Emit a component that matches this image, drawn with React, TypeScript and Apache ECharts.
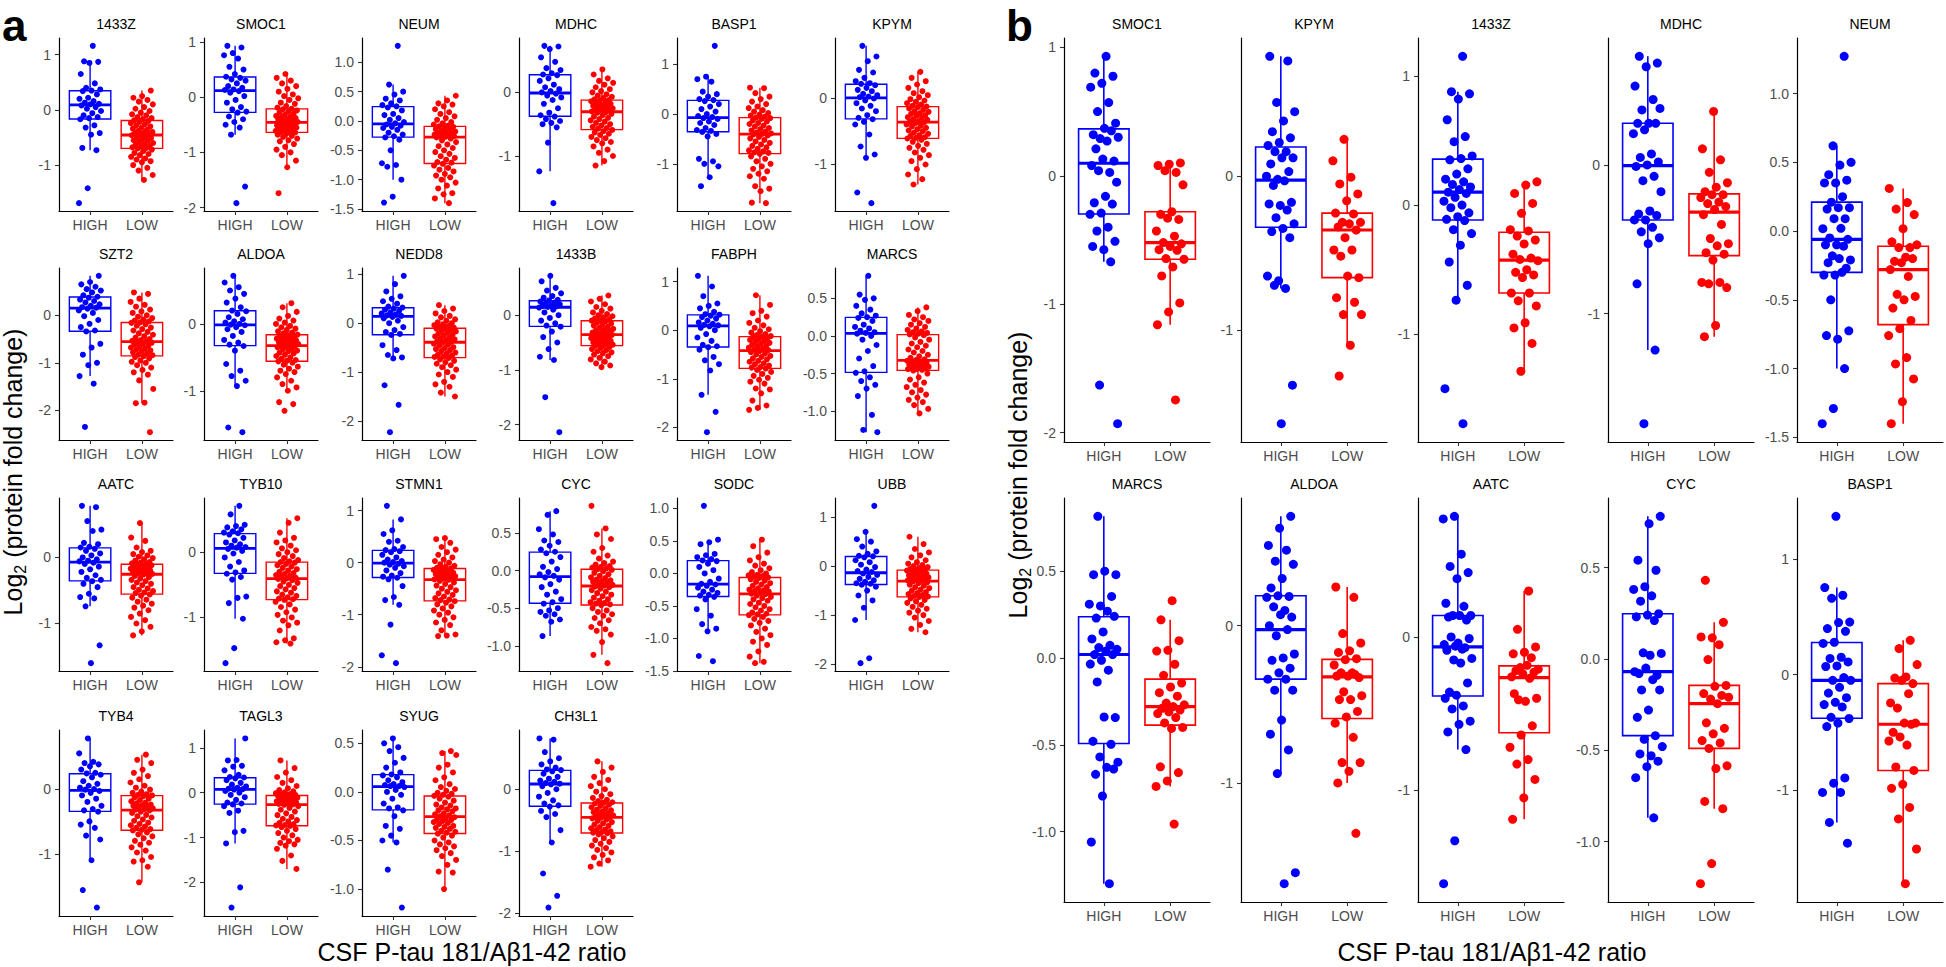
import React, { useEffect, useRef } from "react";
import * as echarts from "echarts";

const GROUPS = ["HIGH", "LOW"];
const COLORS = ["#0000FF", "#FF0000"];
const Y_TITLE = "Log2 (protein fold change)";
const X_TITLE = "CSF P-tau 181/A\u03b21-42 ratio";

// ---------- Panel a ----------
const TITLES_A = ["1433Z", "SMOC1", "NEUM", "MDHC", "BASP1", "KPYM", "SZT2", "ALDOA", "NEDD8", "1433B", "FABPH", "MARCS", "AATC", "TYB10", "STMN1", "CYC", "SODC", "UBB", "TYB4", "TAGL3", "SYUG", "CH3L1"];
const TICKS_A = [
  [-1, 0, 1], [-2, -1, 0, 1], [-1.5, -1, -0.5, 0, 0.5, 1], [-1, 0], [-1, 0, 1], [-1, 0],
  [-2, -1, 0], [-1, 0], [-2, -1, 0, 1], [-2, -1, 0], [-2, -1, 0, 1], [-1, -0.5, 0, 0.5],
  [-1, 0], [-1, 0], [-2, -1, 0, 1], [-1, -0.5, 0, 0.5], [-1.5, -1, -0.5, 0, 0.5, 1], [-2, -1, 0, 1],
  [-1, 0], [-2, -1, 0, 1], [-1, -0.5, 0, 0.5], [-2, -1, 0],
];

const A_1433Z_HIGH = [1.16, 0.88, 0.87, 0.85, 0.65, 0.48, 0.40, 0.37, 0.35, 0.34, 0.28, 0.22, 0.20, 0.16, 0.13, 0.11, 0.10, 0.08, 0.05, 0.02, -0.02, -0.06, -0.10, -0.13, -0.15, -0.17, -0.28, -0.32, -0.42, -0.45, -0.69, -0.73, -1.42, -1.69];
const A_1433Z_LOW = [0.35, 0.25, 0.22, 0.18, 0.15, 0.10, 0.05, 0.02, -0.02, -0.05, -0.08, -0.10, -0.13, -0.15, -0.17, -0.19, -0.20, -0.22, -0.24, -0.26, -0.28, -0.30, -0.32, -0.34, -0.36, -0.38, -0.40, -0.41, -0.42, -0.44, -0.45, -0.46, -0.48, -0.50, -0.51, -0.53, -0.55, -0.56, -0.58, -0.60, -0.62, -0.63, -0.65, -0.66, -0.68, -0.69, -0.70, -0.72, -0.75, -0.78, -0.80, -0.82, -0.85, -0.88, -0.90, -0.93, -0.95, -1.00, -1.05, -1.10, -1.18, -1.27];
const A_SMOC1_HIGH = [0.93, 0.90, 0.80, 0.76, 0.70, 0.55, 0.50, 0.42, 0.37, 0.35, 0.32, 0.30, 0.25, 0.20, 0.17, 0.14, 0.13, 0.11, 0.08, 0.02, -0.05, -0.10, -0.18, -0.22, -0.26, -0.28, -0.35, -0.40, -0.45, -0.50, -0.55, -0.68, -1.62, -1.92];
const A_SMOC1_LOW = [0.42, 0.35, 0.30, 0.25, 0.20, 0.15, 0.10, 0.05, 0.02, -0.02, -0.05, -0.10, -0.12, -0.16, -0.19, -0.21, -0.22, -0.24, -0.26, -0.28, -0.30, -0.32, -0.34, -0.35, -0.37, -0.38, -0.40, -0.41, -0.43, -0.44, -0.45, -0.46, -0.47, -0.49, -0.50, -0.51, -0.53, -0.54, -0.55, -0.57, -0.58, -0.59, -0.60, -0.61, -0.62, -0.63, -0.64, -0.66, -0.68, -0.70, -0.72, -0.75, -0.78, -0.80, -0.85, -0.90, -0.95, -1.00, -1.05, -1.15, -1.27, -1.74];
const A_NEUM_HIGH = [1.28, 0.62, 0.50, 0.45, 0.38, 0.35, 0.30, 0.27, 0.25, 0.23, 0.18, 0.12, 0.10, 0.05, 0.02, -0.02, -0.04, -0.06, -0.08, -0.10, -0.12, -0.15, -0.20, -0.23, -0.26, -0.28, -0.32, -0.50, -0.72, -0.75, -0.78, -1.00, -1.29, -1.39];
const A_NEUM_LOW = [0.43, 0.35, 0.30, 0.28, 0.25, 0.20, 0.15, 0.12, 0.08, 0.05, 0.02, -0.02, -0.04, -0.06, -0.08, -0.09, -0.10, -0.12, -0.14, -0.15, -0.17, -0.18, -0.19, -0.20, -0.21, -0.22, -0.23, -0.24, -0.25, -0.26, -0.27, -0.28, -0.30, -0.33, -0.36, -0.40, -0.43, -0.46, -0.50, -0.53, -0.56, -0.60, -0.63, -0.66, -0.70, -0.71, -0.73, -0.76, -0.80, -0.83, -0.86, -0.90, -0.93, -0.96, -1.00, -1.05, -1.10, -1.15, -1.23, -1.25, -1.32, -1.40];
const A_MDHC_HIGH = [0.73, 0.72, 0.68, 0.55, 0.48, 0.38, 0.35, 0.30, 0.28, 0.27, 0.22, 0.18, 0.12, 0.08, 0.05, 0.02, 0.00, -0.02, -0.05, -0.08, -0.12, -0.18, -0.25, -0.32, -0.36, -0.38, -0.42, -0.45, -0.48, -0.50, -0.55, -0.79, -1.24, -1.74];
const A_MDHC_LOW = [0.36, 0.28, 0.22, 0.18, 0.15, 0.12, 0.08, 0.05, 0.02, 0.00, -0.03, -0.05, -0.07, -0.09, -0.11, -0.12, -0.13, -0.14, -0.16, -0.17, -0.18, -0.20, -0.21, -0.22, -0.23, -0.25, -0.26, -0.27, -0.28, -0.29, -0.30, -0.31, -0.32, -0.34, -0.36, -0.38, -0.40, -0.42, -0.44, -0.46, -0.48, -0.50, -0.52, -0.54, -0.56, -0.57, -0.59, -0.61, -0.63, -0.65, -0.67, -0.70, -0.72, -0.75, -0.78, -0.80, -0.85, -0.90, -0.95, -1.00, -1.08, -1.15];
const A_BASP1_HIGH = [1.37, 0.75, 0.70, 0.65, 0.45, 0.40, 0.35, 0.30, 0.28, 0.26, 0.20, 0.15, 0.10, 0.05, 0.00, -0.04, -0.06, -0.08, -0.10, -0.15, -0.18, -0.22, -0.28, -0.32, -0.34, -0.36, -0.40, -0.45, -0.90, -0.95, -1.00, -1.05, -1.27, -1.45];
const A_BASP1_LOW = [0.53, 0.52, 0.42, 0.35, 0.30, 0.25, 0.20, 0.15, 0.12, 0.08, 0.05, 0.02, -0.01, -0.03, -0.05, -0.07, -0.08, -0.10, -0.13, -0.15, -0.18, -0.20, -0.23, -0.25, -0.28, -0.30, -0.33, -0.35, -0.37, -0.39, -0.40, -0.41, -0.43, -0.46, -0.49, -0.52, -0.55, -0.58, -0.61, -0.64, -0.67, -0.70, -0.73, -0.75, -0.77, -0.78, -0.80, -0.85, -0.90, -0.95, -1.00, -1.05, -1.10, -1.15, -1.20, -1.25, -1.30, -1.45, -1.50, -1.55, -1.78, -1.79];
const A_KPYM_HIGH = [0.78, 0.62, 0.55, 0.42, 0.38, 0.30, 0.25, 0.22, 0.21, 0.19, 0.15, 0.12, 0.10, 0.06, 0.04, 0.02, 0.01, -0.01, -0.04, -0.08, -0.12, -0.16, -0.20, -0.26, -0.30, -0.32, -0.36, -0.40, -0.55, -0.73, -0.85, -0.90, -1.42, -1.58];
const A_KPYM_LOW = [0.39, 0.30, 0.25, 0.20, 0.15, 0.10, 0.07, 0.04, 0.01, -0.02, -0.04, -0.06, -0.08, -0.10, -0.12, -0.13, -0.14, -0.16, -0.18, -0.20, -0.21, -0.23, -0.24, -0.26, -0.27, -0.29, -0.30, -0.32, -0.33, -0.35, -0.36, -0.37, -0.38, -0.40, -0.42, -0.43, -0.45, -0.47, -0.49, -0.50, -0.52, -0.54, -0.56, -0.57, -0.59, -0.60, -0.61, -0.63, -0.66, -0.69, -0.72, -0.75, -0.78, -0.82, -0.86, -0.90, -0.95, -1.00, -1.07, -1.15, -1.22, -1.30];
const A_SZT2_HIGH = [0.83, 0.70, 0.65, 0.60, 0.55, 0.52, 0.48, 0.42, 0.39, 0.37, 0.33, 0.30, 0.27, 0.23, 0.20, 0.17, 0.16, 0.14, 0.10, 0.05, -0.02, -0.10, -0.18, -0.25, -0.32, -0.34, -0.60, -0.68, -0.83, -1.00, -1.05, -1.28, -1.44, -2.35];
const A_SZT2_LOW = [0.48, 0.45, 0.35, 0.28, 0.22, 0.18, 0.12, 0.08, 0.05, 0.00, -0.03, -0.06, -0.09, -0.11, -0.13, -0.15, -0.16, -0.19, -0.22, -0.26, -0.29, -0.32, -0.35, -0.38, -0.41, -0.44, -0.47, -0.50, -0.52, -0.54, -0.55, -0.56, -0.58, -0.60, -0.62, -0.64, -0.66, -0.68, -0.70, -0.72, -0.74, -0.76, -0.78, -0.80, -0.83, -0.84, -0.86, -0.88, -0.91, -0.95, -0.98, -1.00, -1.05, -1.10, -1.15, -1.20, -1.25, -1.37, -1.55, -1.84, -1.85, -2.46];
const A_ALDOA_HIGH = [0.72, 0.62, 0.55, 0.50, 0.45, 0.38, 0.32, 0.25, 0.20, 0.19, 0.15, 0.10, 0.07, 0.04, 0.02, 0.00, -0.01, -0.02, -0.05, -0.08, -0.12, -0.18, -0.24, -0.28, -0.31, -0.33, -0.40, -0.60, -0.70, -0.78, -0.85, -0.93, -1.55, -1.62];
const A_ALDOA_LOW = [0.31, 0.25, 0.18, 0.12, 0.08, 0.05, 0.02, 0.00, -0.03, -0.05, -0.07, -0.09, -0.11, -0.13, -0.14, -0.16, -0.17, -0.18, -0.19, -0.21, -0.22, -0.23, -0.24, -0.25, -0.26, -0.27, -0.28, -0.29, -0.30, -0.31, -0.32, -0.33, -0.34, -0.35, -0.37, -0.38, -0.40, -0.41, -0.43, -0.44, -0.46, -0.48, -0.50, -0.52, -0.54, -0.55, -0.56, -0.58, -0.61, -0.64, -0.67, -0.70, -0.72, -0.75, -0.80, -0.85, -0.90, -0.95, -1.00, -1.17, -1.20, -1.30];
const A_NEDD8_HIGH = [0.97, 0.80, 0.65, 0.55, 0.50, 0.45, 0.40, 0.34, 0.32, 0.30, 0.28, 0.25, 0.22, 0.20, 0.18, 0.16, 0.15, 0.13, 0.10, 0.05, 0.00, -0.08, -0.14, -0.18, -0.22, -0.24, -0.45, -0.55, -0.65, -0.70, -0.72, -1.27, -1.67, -2.23];
const A_NEDD8_LOW = [0.37, 0.30, 0.25, 0.20, 0.15, 0.12, 0.08, 0.05, 0.02, 0.00, -0.02, -0.04, -0.06, -0.08, -0.09, -0.10, -0.11, -0.13, -0.15, -0.17, -0.19, -0.21, -0.23, -0.25, -0.27, -0.29, -0.31, -0.33, -0.35, -0.37, -0.38, -0.40, -0.42, -0.44, -0.46, -0.49, -0.51, -0.53, -0.55, -0.57, -0.60, -0.62, -0.64, -0.66, -0.68, -0.69, -0.71, -0.74, -0.77, -0.80, -0.83, -0.86, -0.90, -0.95, -1.00, -1.05, -1.10, -1.20, -1.25, -1.30, -1.42, -1.50];
const A_1433B_HIGH = [0.72, 0.62, 0.50, 0.45, 0.40, 0.35, 0.32, 0.28, 0.27, 0.25, 0.23, 0.21, 0.20, 0.18, 0.17, 0.16, 0.15, 0.14, 0.10, 0.05, 0.00, -0.05, -0.10, -0.15, -0.19, -0.21, -0.30, -0.40, -0.50, -0.62, -0.76, -0.82, -1.50, -2.14];
const A_1433B_LOW = [0.36, 0.30, 0.25, 0.20, 0.15, 0.12, 0.08, 0.05, 0.02, 0.00, -0.02, -0.04, -0.06, -0.08, -0.09, -0.10, -0.11, -0.13, -0.15, -0.17, -0.19, -0.21, -0.23, -0.25, -0.26, -0.28, -0.29, -0.31, -0.32, -0.34, -0.35, -0.36, -0.37, -0.38, -0.40, -0.41, -0.42, -0.44, -0.45, -0.47, -0.48, -0.50, -0.51, -0.52, -0.54, -0.55, -0.56, -0.58, -0.60, -0.62, -0.64, -0.66, -0.68, -0.70, -0.72, -0.75, -0.78, -0.81, -0.85, -0.88, -0.92, -0.95];
const A_FABPH_HIGH = [1.12, 0.90, 0.70, 0.55, 0.50, 0.45, 0.38, 0.33, 0.32, 0.30, 0.27, 0.24, 0.20, 0.16, 0.13, 0.11, 0.10, 0.08, 0.05, 0.00, -0.08, -0.15, -0.22, -0.30, -0.33, -0.35, -0.40, -0.55, -0.62, -0.70, -0.83, -1.33, -1.68, -2.10];
const A_FABPH_LOW = [0.72, 0.52, 0.40, 0.35, 0.28, 0.20, 0.15, 0.10, 0.05, 0.02, -0.02, -0.05, -0.08, -0.10, -0.12, -0.13, -0.14, -0.16, -0.18, -0.20, -0.22, -0.24, -0.26, -0.28, -0.30, -0.32, -0.34, -0.36, -0.38, -0.40, -0.41, -0.43, -0.45, -0.48, -0.50, -0.53, -0.55, -0.58, -0.60, -0.63, -0.65, -0.68, -0.70, -0.73, -0.76, -0.77, -0.79, -0.82, -0.86, -0.90, -0.94, -0.98, -1.02, -1.06, -1.10, -1.20, -1.22, -1.30, -1.45, -1.55, -1.60, -1.64];
const A_MARCS_HIGH = [0.80, 0.55, 0.50, 0.48, 0.40, 0.35, 0.30, 0.27, 0.25, 0.24, 0.20, 0.15, 0.12, 0.10, 0.07, 0.05, 0.04, 0.03, 0.00, -0.05, -0.12, -0.20, -0.30, -0.40, -0.47, -0.49, -0.55, -0.60, -0.65, -0.70, -0.80, -1.05, -1.25, -1.28];
const A_MARCS_LOW = [0.38, 0.33, 0.28, 0.25, 0.22, 0.20, 0.17, 0.15, 0.12, 0.10, 0.08, 0.06, 0.05, 0.04, 0.03, 0.02, 0.01, -0.02, -0.05, -0.08, -0.10, -0.13, -0.15, -0.18, -0.20, -0.22, -0.25, -0.27, -0.29, -0.31, -0.32, -0.33, -0.34, -0.35, -0.36, -0.37, -0.38, -0.39, -0.40, -0.41, -0.42, -0.43, -0.43, -0.44, -0.44, -0.45, -0.46, -0.50, -0.55, -0.58, -0.62, -0.65, -0.68, -0.72, -0.75, -0.78, -0.82, -0.85, -0.88, -0.92, -0.97, -1.03];
const A_AATC_HIGH = [0.78, 0.76, 0.55, 0.42, 0.40, 0.22, 0.20, 0.16, 0.15, 0.13, 0.10, 0.06, 0.03, 0.00, -0.03, -0.05, -0.06, -0.08, -0.10, -0.14, -0.18, -0.22, -0.27, -0.31, -0.34, -0.36, -0.40, -0.45, -0.55, -0.60, -0.62, -0.74, -1.33, -1.60];
const A_AATC_LOW = [0.52, 0.30, 0.25, 0.15, 0.10, 0.08, 0.05, 0.03, 0.01, -0.01, -0.03, -0.05, -0.07, -0.08, -0.09, -0.10, -0.11, -0.12, -0.13, -0.14, -0.15, -0.16, -0.17, -0.18, -0.19, -0.20, -0.21, -0.22, -0.23, -0.24, -0.25, -0.26, -0.28, -0.30, -0.32, -0.34, -0.36, -0.38, -0.40, -0.42, -0.45, -0.47, -0.49, -0.51, -0.53, -0.54, -0.56, -0.58, -0.61, -0.64, -0.67, -0.70, -0.73, -0.76, -0.80, -0.85, -0.90, -0.95, -1.00, -1.05, -1.12, -1.18];
const A_TYB10_HIGH = [0.71, 0.58, 0.42, 0.40, 0.38, 0.35, 0.32, 0.30, 0.29, 0.27, 0.22, 0.18, 0.15, 0.12, 0.10, 0.08, 0.07, 0.05, 0.02, -0.02, -0.08, -0.15, -0.22, -0.28, -0.31, -0.33, -0.38, -0.42, -0.68, -0.70, -0.78, -1.02, -1.47, -1.70];
const A_TYB10_LOW = [0.52, 0.45, 0.30, 0.22, 0.18, 0.15, 0.10, 0.06, 0.03, 0.00, -0.03, -0.06, -0.09, -0.12, -0.14, -0.15, -0.16, -0.18, -0.20, -0.22, -0.24, -0.26, -0.28, -0.30, -0.32, -0.33, -0.35, -0.36, -0.37, -0.39, -0.40, -0.41, -0.43, -0.45, -0.47, -0.50, -0.52, -0.55, -0.57, -0.60, -0.62, -0.65, -0.67, -0.69, -0.71, -0.72, -0.73, -0.76, -0.80, -0.84, -0.88, -0.92, -0.96, -1.00, -1.05, -1.08, -1.12, -1.20, -1.32, -1.35, -1.38, -1.40];
const A_STMN1_HIGH = [1.09, 0.83, 0.62, 0.55, 0.42, 0.40, 0.30, 0.26, 0.24, 0.22, 0.20, 0.15, 0.10, 0.06, 0.03, 0.01, 0.00, -0.02, -0.04, -0.07, -0.10, -0.15, -0.20, -0.25, -0.27, -0.29, -0.32, -0.45, -0.66, -0.72, -0.81, -1.19, -1.78, -1.93];
const A_STMN1_LOW = [0.47, 0.45, 0.38, 0.30, 0.25, 0.20, 0.15, 0.10, 0.06, 0.03, 0.00, -0.03, -0.06, -0.08, -0.10, -0.11, -0.12, -0.14, -0.16, -0.18, -0.19, -0.21, -0.22, -0.24, -0.25, -0.26, -0.27, -0.29, -0.30, -0.31, -0.32, -0.33, -0.35, -0.38, -0.41, -0.44, -0.47, -0.50, -0.53, -0.56, -0.59, -0.62, -0.65, -0.68, -0.71, -0.72, -0.74, -0.77, -0.80, -0.84, -0.88, -0.92, -0.96, -1.00, -1.05, -1.10, -1.15, -1.20, -1.30, -1.38, -1.40, -1.41];
const A_CYC_HIGH = [0.79, 0.74, 0.55, 0.48, 0.40, 0.38, 0.33, 0.28, 0.25, 0.23, 0.18, 0.12, 0.05, 0.02, -0.02, -0.05, -0.07, -0.09, -0.12, -0.18, -0.22, -0.28, -0.32, -0.38, -0.42, -0.44, -0.50, -0.53, -0.55, -0.58, -0.60, -0.65, -0.68, -0.87];
const A_CYC_LOW = [0.86, 0.56, 0.48, 0.42, 0.30, 0.25, 0.20, 0.16, 0.12, 0.10, 0.08, 0.06, 0.05, 0.04, 0.03, 0.02, 0.01, -0.01, -0.03, -0.05, -0.07, -0.09, -0.10, -0.12, -0.13, -0.14, -0.15, -0.16, -0.18, -0.19, -0.20, -0.21, -0.22, -0.24, -0.26, -0.28, -0.30, -0.32, -0.34, -0.36, -0.38, -0.40, -0.42, -0.43, -0.44, -0.45, -0.46, -0.50, -0.53, -0.55, -0.58, -0.60, -0.63, -0.66, -0.70, -0.75, -0.78, -0.80, -0.85, -0.95, -1.12, -1.23];
const A_SODC_HIGH = [1.04, 0.52, 0.48, 0.45, 0.30, 0.28, 0.25, 0.22, 0.20, 0.19, 0.15, 0.10, 0.05, 0.00, -0.08, -0.13, -0.16, -0.17, -0.19, -0.22, -0.25, -0.28, -0.30, -0.33, -0.34, -0.36, -0.40, -0.55, -0.65, -0.78, -0.85, -0.89, -1.27, -1.35];
const A_SODC_LOW = [0.52, 0.42, 0.32, 0.25, 0.20, 0.15, 0.12, 0.08, 0.05, 0.02, 0.00, -0.02, -0.03, -0.04, -0.05, -0.06, -0.07, -0.09, -0.11, -0.13, -0.15, -0.17, -0.19, -0.21, -0.23, -0.25, -0.26, -0.27, -0.28, -0.30, -0.31, -0.32, -0.34, -0.36, -0.38, -0.40, -0.42, -0.45, -0.47, -0.50, -0.52, -0.55, -0.57, -0.60, -0.62, -0.63, -0.64, -0.67, -0.70, -0.73, -0.76, -0.80, -0.85, -0.90, -0.95, -1.00, -1.05, -1.10, -1.20, -1.28, -1.36, -1.38];
const A_UBB_HIGH = [1.23, 0.70, 0.55, 0.50, 0.40, 0.30, 0.25, 0.21, 0.20, 0.18, 0.12, 0.08, 0.03, -0.02, -0.07, -0.10, -0.12, -0.15, -0.18, -0.22, -0.26, -0.29, -0.32, -0.35, -0.36, -0.38, -0.42, -0.50, -0.60, -0.70, -0.85, -1.10, -1.88, -1.98];
const A_UBB_LOW = [0.60, 0.45, 0.35, 0.28, 0.22, 0.18, 0.12, 0.08, 0.05, 0.02, 0.00, -0.02, -0.04, -0.06, -0.07, -0.08, -0.09, -0.11, -0.13, -0.15, -0.17, -0.19, -0.20, -0.22, -0.23, -0.24, -0.25, -0.26, -0.27, -0.29, -0.30, -0.31, -0.33, -0.35, -0.38, -0.40, -0.43, -0.45, -0.48, -0.50, -0.53, -0.55, -0.57, -0.59, -0.61, -0.62, -0.63, -0.66, -0.69, -0.72, -0.75, -0.79, -0.83, -0.87, -0.91, -0.95, -1.00, -1.05, -1.12, -1.20, -1.28, -1.35];
const A_TYB4_HIGH = [0.78, 0.55, 0.42, 0.40, 0.38, 0.35, 0.30, 0.25, 0.24, 0.22, 0.18, 0.12, 0.08, 0.05, 0.02, 0.00, -0.01, -0.03, -0.06, -0.10, -0.15, -0.20, -0.26, -0.31, -0.33, -0.35, -0.50, -0.55, -0.60, -0.72, -0.78, -1.10, -1.56, -1.83];
const A_TYB4_LOW = [0.53, 0.45, 0.40, 0.30, 0.25, 0.20, 0.15, 0.10, 0.05, 0.02, -0.01, -0.04, -0.06, -0.08, -0.09, -0.10, -0.11, -0.13, -0.15, -0.17, -0.19, -0.21, -0.22, -0.24, -0.25, -0.26, -0.27, -0.28, -0.30, -0.31, -0.32, -0.33, -0.35, -0.37, -0.40, -0.42, -0.44, -0.47, -0.49, -0.52, -0.54, -0.56, -0.58, -0.60, -0.62, -0.63, -0.64, -0.67, -0.70, -0.73, -0.76, -0.80, -0.83, -0.86, -0.90, -0.95, -0.98, -1.05, -1.10, -1.12, -1.20, -1.44];
const A_TAGL3_HIGH = [1.21, 0.73, 0.72, 0.60, 0.58, 0.50, 0.40, 0.35, 0.34, 0.32, 0.28, 0.22, 0.18, 0.14, 0.11, 0.09, 0.08, 0.07, 0.04, 0.00, -0.05, -0.10, -0.16, -0.22, -0.24, -0.26, -0.30, -0.40, -0.45, -0.85, -0.88, -1.13, -2.11, -2.56];
const A_TAGL3_LOW = [0.72, 0.55, 0.45, 0.35, 0.28, 0.22, 0.15, 0.10, 0.06, 0.03, 0.01, -0.01, -0.03, -0.04, -0.05, -0.06, -0.07, -0.08, -0.10, -0.11, -0.13, -0.14, -0.16, -0.17, -0.19, -0.20, -0.21, -0.22, -0.24, -0.25, -0.26, -0.27, -0.30, -0.34, -0.38, -0.42, -0.46, -0.50, -0.54, -0.58, -0.61, -0.64, -0.67, -0.70, -0.72, -0.73, -0.74, -0.77, -0.81, -0.85, -0.90, -0.95, -1.00, -1.05, -1.08, -1.12, -1.15, -1.18, -1.25, -1.40, -1.52, -1.70];
const A_SYUG_HIGH = [0.55, 0.50, 0.46, 0.42, 0.35, 0.30, 0.25, 0.20, 0.18, 0.17, 0.15, 0.12, 0.10, 0.08, 0.07, 0.06, 0.06, 0.05, 0.02, 0.00, -0.03, -0.07, -0.12, -0.16, -0.17, -0.19, -0.25, -0.35, -0.38, -0.45, -0.50, -0.52, -0.80, -1.19];
const A_SYUG_LOW = [0.42, 0.40, 0.38, 0.28, 0.25, 0.20, 0.15, 0.12, 0.08, 0.05, 0.03, 0.01, -0.01, -0.02, -0.03, -0.04, -0.05, -0.07, -0.09, -0.11, -0.13, -0.14, -0.16, -0.17, -0.18, -0.19, -0.20, -0.22, -0.23, -0.24, -0.25, -0.26, -0.27, -0.28, -0.29, -0.30, -0.31, -0.32, -0.33, -0.35, -0.36, -0.37, -0.38, -0.40, -0.41, -0.42, -0.43, -0.45, -0.47, -0.50, -0.52, -0.54, -0.56, -0.58, -0.60, -0.63, -0.66, -0.70, -0.75, -0.82, -0.83, -1.00];
const A_CH3L1_HIGH = [0.82, 0.80, 0.60, 0.50, 0.45, 0.40, 0.35, 0.32, 0.31, 0.29, 0.25, 0.20, 0.17, 0.14, 0.12, 0.10, 0.09, 0.08, 0.05, 0.00, -0.06, -0.12, -0.18, -0.23, -0.26, -0.28, -0.35, -0.40, -0.45, -0.66, -0.86, -1.36, -1.72, -1.91];
const A_CH3L1_LOW = [0.45, 0.35, 0.28, 0.20, 0.15, 0.10, 0.05, 0.00, -0.04, -0.08, -0.11, -0.14, -0.17, -0.19, -0.21, -0.22, -0.23, -0.25, -0.27, -0.29, -0.31, -0.33, -0.34, -0.36, -0.37, -0.39, -0.40, -0.42, -0.43, -0.44, -0.45, -0.46, -0.47, -0.49, -0.51, -0.53, -0.55, -0.57, -0.59, -0.61, -0.63, -0.65, -0.66, -0.68, -0.69, -0.70, -0.71, -0.73, -0.76, -0.79, -0.82, -0.85, -0.88, -0.91, -0.95, -0.98, -1.02, -1.06, -1.10, -1.15, -1.20, -1.25];

const HIGH_A = [A_1433Z_HIGH, A_SMOC1_HIGH, A_NEUM_HIGH, A_MDHC_HIGH, A_BASP1_HIGH, A_KPYM_HIGH, A_SZT2_HIGH, A_ALDOA_HIGH, A_NEDD8_HIGH, A_1433B_HIGH, A_FABPH_HIGH, A_MARCS_HIGH, A_AATC_HIGH, A_TYB10_HIGH, A_STMN1_HIGH, A_CYC_HIGH, A_SODC_HIGH, A_UBB_HIGH, A_TYB4_HIGH, A_TAGL3_HIGH, A_SYUG_HIGH, A_CH3L1_HIGH];
const LOW_A = [A_1433Z_LOW, A_SMOC1_LOW, A_NEUM_LOW, A_MDHC_LOW, A_BASP1_LOW, A_KPYM_LOW, A_SZT2_LOW, A_ALDOA_LOW, A_NEDD8_LOW, A_1433B_LOW, A_FABPH_LOW, A_MARCS_LOW, A_AATC_LOW, A_TYB10_LOW, A_STMN1_LOW, A_CYC_LOW, A_SODC_LOW, A_UBB_LOW, A_TYB4_LOW, A_TAGL3_LOW, A_SYUG_LOW, A_CH3L1_LOW];

// ---------- Panel b ----------
const TITLES_B = ["SMOC1", "KPYM", "1433Z", "MDHC", "NEUM", "MARCS", "ALDOA", "AATC", "CYC", "BASP1"];
const TICKS_B = [
  [-2, -1, 0, 1], [-1, 0], [-1, 0, 1], [-1, 0], [-1.5, -1, -0.5, 0, 0.5, 1],
  [-1, -0.5, 0, 0.5], [-1, 0], [-1, 0], [-1, -0.5, 0, 0.5], [-1, 0, 1],
];
const B_SMOC1_HIGH = [0.93, 0.80, 0.775, 0.72, 0.69, 0.57, 0.50, 0.41, 0.37, 0.32, 0.35, 0.29, 0.30, 0.27, 0.21, 0.115, 0.13, 0.08, 0.026, 0.04, -0.05, -0.16, -0.21, -0.22, -0.29, -0.30, -0.40, -0.43, -0.51, -0.575, -0.55, -0.67, -1.63, -1.93];
const B_SMOC1_LOW = [0.10, 0.09, 0.08, 0.026, 0.04, -0.07, -0.28, -0.30, -0.34, -0.33, -0.43, -0.47, -0.52, -0.53, -0.55, -0.575, -0.58, -0.645, -0.65, -0.71, -0.78, -0.99, -1.06, -1.16, -1.745];
const B_KPYM_HIGH = [0.78, 0.75, 0.48, 0.42, 0.36, 0.29, 0.25, 0.22, 0.20, 0.16, 0.16, 0.12, 0.12, 0.08, 0.03, -0.02, 0.00, -0.03, -0.06, -0.17, -0.19, -0.18, -0.22, -0.27, -0.31, -0.34, -0.36, -0.40, -0.68, -0.65, -0.73, -0.71, -1.36, -1.61];
const B_KPYM_LOW = [0.24, 0.10, -0.006, -0.05, -0.115, -0.16, -0.24, -0.245, -0.30, -0.30, -0.31, -0.33, -0.35, -0.40, -0.48, -0.48, -0.52, -0.66, -0.65, -0.79, -0.82, -0.90, -0.90, -1.10, -1.30];
const B_1433Z_HIGH = [1.15, 0.877, 0.86, 0.82, 0.66, 0.53, 0.49, 0.38, 0.36, 0.35, 0.28, 0.24, 0.20, 0.18, 0.16, 0.14, 0.12, 0.10, 0.09, 0.06, 0.03, 0.00, -0.02, -0.06, -0.09, -0.11, -0.12, -0.19, -0.22, -0.31, -0.44, -0.62, -0.735, -1.42, -1.69];
const B_1433Z_LOW = [0.18, 0.155, 0.09, 0.013, -0.064, -0.19, -0.20, -0.24, -0.27, -0.30, -0.38, -0.41, -0.42, -0.43, -0.50, -0.52, -0.54, -0.56, -0.68, -0.68, -0.74, -0.78, -0.91, -0.95, -1.07, -1.285];
const B_MDHC_HIGH = [0.73, 0.685, 0.66, 0.53, 0.44, 0.37, 0.38, 0.28, 0.28, 0.28, 0.236, 0.21, 0.074, 0.05, 0.02, 0.00, -0.01, -0.077, -0.106, -0.18, -0.31, -0.33, -0.34, -0.37, -0.37, -0.42, -0.45, -0.49, -0.53, -0.80, -1.245, -1.74];
const B_MDHC_LOW = [0.36, 0.108, 0.034, -0.05, -0.12, -0.15, -0.18, -0.20, -0.20, -0.22, -0.25, -0.26, -0.28, -0.30, -0.335, -0.40, -0.495, -0.53, -0.544, -0.59, -0.60, -0.64, -0.79, -0.79, -0.80, -0.825, -1.08, -1.155];
const B_NEUM_HIGH = [1.27, 0.62, 0.50, 0.48, 0.41, 0.37, 0.35, 0.35, 0.25, 0.21, 0.17, 0.17, 0.16, 0.09, 0.09, 0.017, 0.02, -0.05, -0.06, -0.10, -0.10, -0.11, -0.18, -0.21, -0.20, -0.23, -0.27, -0.32, -0.32, -0.30, -0.50, -0.725, -0.786, -0.76, -1.00, -1.29, -1.40];
const B_NEUM_LOW = [0.31, 0.207, 0.16, 0.12, 0.017, -0.078, -0.12, -0.12, -0.10, -0.19, -0.22, -0.20, -0.23, -0.28, -0.33, -0.46, -0.475, -0.50, -0.56, -0.65, -0.71, -0.76, -0.92, -0.966, -1.075, -1.24, -1.40];
const B_MARCS_HIGH = [0.816, 0.48, 0.50, 0.48, 0.355, 0.30, 0.31, 0.27, 0.23, 0.24, 0.15, 0.11, 0.073, 0.06, 0.05, 0.04, 0.02, 0.02, -0.013, -0.035, -0.07, -0.138, -0.343, -0.34, -0.48, -0.497, -0.57, -0.60, -0.63, -0.67, -0.64, -0.795, -1.06, -1.30];
const B_MARCS_LOW = [0.33, 0.22, 0.10, 0.044, 0.04, -0.036, -0.10, -0.144, -0.167, -0.20, -0.22, -0.26, -0.27, -0.28, -0.29, -0.30, -0.31, -0.32, -0.343, -0.374, -0.40, -0.406, -0.627, -0.66, -0.708, -0.74, -0.957];
const B_ALDOA_HIGH = [0.695, 0.62, 0.51, 0.48, 0.41, 0.39, 0.30, 0.24, 0.186, 0.19, 0.18, 0.097, 0.12, 0.055, 0.07, 0.00, -0.025, -0.064, -0.18, -0.205, -0.22, -0.27, -0.30, -0.34, -0.34, -0.41, -0.41, -0.60, -0.69, -0.79, -0.94, -1.57, -1.64];
const B_ALDOA_LOW = [0.246, 0.18, -0.05, -0.11, -0.16, -0.17, -0.21, -0.216, -0.25, -0.30, -0.30, -0.33, -0.32, -0.32, -0.31, -0.42, -0.445, -0.47, -0.47, -0.545, -0.58, -0.62, -0.71, -0.87, -0.87, -0.926, -1.0, -1.32];
const B_AATC_HIGH = [0.787, 0.77, 0.54, 0.46, 0.42, 0.38, 0.22, 0.20, 0.14, 0.14, 0.14, 0.13, 0.11, -0.06, -0.05, -0.08, 0.00, -0.01, -0.04, -0.087, -0.07, -0.15, -0.14, -0.17, -0.36, -0.30, -0.38, -0.40, -0.45, -0.47, -0.55, -0.57, -0.62, -0.735, -1.33, -1.61];
const B_AATC_LOW = [0.30, 0.05, -0.065, -0.10, -0.11, -0.135, -0.20, -0.21, -0.185, -0.22, -0.23, -0.24, -0.26, -0.27, -0.41, -0.40, -0.42, -0.37, -0.58, -0.64, -0.72, -0.80, -0.83, -0.93, -1.05, -1.19];
const B_CYC_HIGH = [0.78, 0.74, 0.54, 0.485, 0.395, 0.38, 0.345, 0.316, 0.247, 0.24, 0.23, 0.21, 0.033, 0.03, 0.02, -0.08, -0.09, -0.05, -0.07, -0.114, -0.17, -0.17, -0.28, -0.32, -0.42, -0.44, -0.48, -0.53, -0.52, -0.56, -0.59, -0.65, -0.87];
const B_CYC_LOW = [0.43, 0.20, 0.115, 0.12, 0.078, -0.004, -0.145, -0.15, -0.19, -0.20, -0.22, -0.21, -0.245, -0.35, -0.38, -0.41, -0.447, -0.46, -0.49, -0.585, -0.60, -0.78, -0.82, -1.12, -1.23];
const B_BASP1_HIGH = [1.37, 0.753, 0.687, 0.66, 0.455, 0.45, 0.398, 0.375, 0.28, 0.27, 0.15, 0.14, 0.11, 0.075, 0.07, -0.026, -0.05, -0.05, -0.11, -0.16, -0.20, -0.24, -0.26, -0.28, -0.37, -0.38, -0.42, -0.45, -0.895, -0.94, -1.02, -1.02, -1.28, -1.46];
const B_BASP1_LOW = [0.297, 0.225, 0.087, -0.02, -0.03, -0.078, -0.05, -0.245, -0.165, -0.29, -0.42, -0.42, -0.50, -0.43, -0.54, -0.575, -0.61, -0.80, -0.83, -0.95, -0.985, -1.15, -1.25, -1.51, -1.81];

const HIGH_B = [B_SMOC1_HIGH, B_KPYM_HIGH, B_1433Z_HIGH, B_MDHC_HIGH, B_NEUM_HIGH, B_MARCS_HIGH, B_ALDOA_HIGH, B_AATC_HIGH, B_CYC_HIGH, B_BASP1_HIGH];
const LOW_B = [B_SMOC1_LOW, B_KPYM_LOW, B_1433Z_LOW, B_MDHC_LOW, B_NEUM_LOW, B_MARCS_LOW, B_ALDOA_LOW, B_AATC_LOW, B_CYC_LOW, B_BASP1_LOW];

// ---------- helpers ----------
const FONT = '"Liberation Sans", Arial, Helvetica, sans-serif';

function quantile(sorted: number[], p: number) {
  const h = (sorted.length - 1) * p;
  const lo = Math.floor(h);
  const hi = Math.min(lo + 1, sorted.length - 1);
  return sorted[lo] + (h - lo) * (sorted[hi] - sorted[lo]);
}

function boxStats(values: number[]) {
  const s = [...values].sort((a, b) => a - b);
  const q1 = quantile(s, 0.25);
  const med = quantile(s, 0.5);
  const q3 = quantile(s, 0.75);
  const iqr = q3 - q1;
  const lowFence = q1 - 1.5 * iqr;
  const highFence = q3 + 1.5 * iqr;
  const inside = s.filter((v) => v >= lowFence && v <= highFence);
  return [inside[0], q1, med, q3, inside[inside.length - 1]];
}

function jitter(i: number, seed: number, width: number) {
  const f = ((i + 1) * 0.6180339887 + seed * 0.2718) % 1;
  return (f - 0.5) * 2 * width;
}

export default function App() {
  const ref = useRef<HTMLDivElement>(null);

  useEffect(() => {
    const chart = echarts.init(ref.current as HTMLDivElement, null, { renderer: "svg" });
    const grids: any[] = [];
    const xAxes: any[] = [];
    const yAxes: any[] = [];
    const series: any[] = [];
    const graphics: any[] = [];

    const addPanel = (
      title: string, ticks: number[], high: number[], low: number[],
      left: number, top: number, width: number, height: number,
      boxW: number, lineW: number, pointSize: number
    ) => {
      const idx = grids.length;
      grids.push({ left, top, width, height, containLabel: false });
      xAxes.push({
        type: "value", gridIndex: idx, min: 0.4, max: 2.6,
        axisLine: { show: true, onZero: false, lineStyle: { color: "#000", width: 1.2 } },
        axisTick: { show: true, customValues: [1, 2], length: 4, lineStyle: { color: "#333", width: 1.1 } },
        axisLabel: {
          show: true, customValues: [1, 2], margin: 7,
          formatter: (v: number) => GROUPS[Math.round(v) - 1] ?? "",
          color: "#4D4D4D", fontSize: 14, fontFamily: FONT,
        },
        splitLine: { show: false },
      });
      const all = high.concat(low);
      const mn = Math.min(...all);
      const mx = Math.max(...all);
      const r = mx - mn;
      const dec = ticks.some((t) => !Number.isInteger(t)) ? 1 : 0;
      yAxes.push({
        type: "value", gridIndex: idx, min: mn - 0.05 * r, max: mx + 0.05 * r,
        axisLine: { show: true, onZero: false, lineStyle: { color: "#000", width: 1.2 } },
        axisTick: { show: true, customValues: ticks, length: 4, lineStyle: { color: "#333", width: 1.1 } },
        axisLabel: {
          show: true, customValues: ticks, margin: 8,
          formatter: (v: number) => v.toFixed(dec),
          color: "#4D4D4D", fontSize: 14, fontFamily: FONT,
        },
        splitLine: { show: false },
      });
      series.push({
        type: "custom", xAxisIndex: idx, yAxisIndex: idx, z: 2, silent: true,
        encode: { x: 0, y: [1, 2, 3, 4, 5] },
        data: [[1, ...boxStats(high)], [2, ...boxStats(low)]],
        renderItem: (params: any, api: any) => {
          const x = api.value(0);
          const lo = api.value(1), q1 = api.value(2), md = api.value(3), q3 = api.value(4), hi = api.value(5);
          const c = COLORS[params.dataIndex];
          const pTL = api.coord([x - boxW / 2, q3]);
          const pBR = api.coord([x + boxW / 2, q1]);
          const pMd = api.coord([x, md]);
          const yHi = api.coord([x, hi])[1];
          const yLo = api.coord([x, lo])[1];
          const ls = { stroke: c, lineWidth: lineW, fill: "none" };
          return {
            type: "group",
            children: [
              { type: "line", shape: { x1: pMd[0], y1: yHi, x2: pMd[0], y2: pTL[1] }, style: ls },
              { type: "line", shape: { x1: pMd[0], y1: pBR[1], x2: pMd[0], y2: yLo }, style: ls },
              { type: "rect", shape: { x: pTL[0], y: pTL[1], width: pBR[0] - pTL[0], height: pBR[1] - pTL[1] }, style: ls },
              { type: "line", shape: { x1: pTL[0], y1: pMd[1], x2: pBR[0], y2: pMd[1] }, style: { stroke: c, lineWidth: lineW * 2 } },
            ],
          };
        },
      });
      [high, low].forEach((vals, g) => {
        series.push({
          type: "scatter", xAxisIndex: idx, yAxisIndex: idx, z: 3, silent: true,
          symbol: "circle", symbolSize: pointSize,
          itemStyle: { color: COLORS[g], opacity: 1 },
          data: vals.map((v, i) => [g + 1 + jitter(i, idx * 2 + g, 0.22), v]),
        });
      });
      graphics.push({
        type: "text", x: left + width / 2, y: top - 14,
        style: { text: title, fontSize: 14, fontFamily: FONT, fill: "#000", align: "center", verticalAlign: "middle" },
      });
    };

    // Panel a layout
    const aLefts = [59, 204, 362, 519, 677, 835];
    const aTops = [38, 268, 498, 730];
    const aHeights = [173, 172, 173, 186];
    TITLES_A.forEach((t, k) => {
      const row = Math.floor(k / 6);
      const col = k % 6;
      addPanel(t, TICKS_A[k], HIGH_A[k], LOW_A[k], aLefts[col], aTops[row], 114, aHeights[row], 0.8, 1.4, 6);
    });

    // Panel b layout
    const bLefts = [1064, 1241, 1418, 1608, 1797];
    const bTops = [38, 498];
    TITLES_B.forEach((t, k) => {
      const row = Math.floor(k / 5);
      const col = k % 5;
      addPanel(t, TICKS_B[k], HIGH_B[k], LOW_B[k], bLefts[col], bTops[row], 146, 404, 0.76, 1.6, 9);
    });

    const yTitle = (x: number, y: number) => ({
      type: "text", x, y, rotation: Math.PI / 2,
      style: {
        text: "{m|" + Y_TITLE.slice(0, 3) + "}{s|" + Y_TITLE.slice(3, 4) + "}{m|" + Y_TITLE.slice(4) + "}",
        align: "center", verticalAlign: "middle", fill: "#000",
        rich: {
          m: { fontSize: 25, fontFamily: FONT, fill: "#000", lineHeight: 30 },
          s: { fontSize: 16, fontFamily: FONT, fill: "#000", verticalAlign: "bottom", lineHeight: 16 },
        },
      },
    });
    graphics.push(yTitle(13, 472));
    graphics.push(yTitle(1018, 475));
    graphics.push({
      type: "text", x: 472, y: 952,
      style: { text: X_TITLE, fontSize: 25, fontFamily: FONT, fill: "#000", align: "center", verticalAlign: "middle" },
    });
    graphics.push({
      type: "text", x: 1492, y: 952,
      style: { text: X_TITLE, fontSize: 25, fontFamily: FONT, fill: "#000", align: "center", verticalAlign: "middle" },
    });
    graphics.push({
      type: "text", x: 2, y: 25,
      style: { text: "a", fontSize: 44, fontWeight: "bold", fontFamily: FONT, fill: "#000", align: "left", verticalAlign: "middle" },
    });
    graphics.push({
      type: "text", x: 1006, y: 25,
      style: { text: "b", fontSize: 44, fontWeight: "bold", fontFamily: FONT, fill: "#000", align: "left", verticalAlign: "middle" },
    });

    chart.setOption({
      animation: false,
      backgroundColor: "#ffffff",
      grid: grids,
      xAxis: xAxes,
      yAxis: yAxes,
      series,
      graphic: graphics,
    });
    return () => chart.dispose();
  }, []);

  return (
    <div
      ref={ref}
      style={{ position: "fixed", left: 0, top: 0, width: 1946, height: 967, background: "#fff" }}
    />
  );
}
